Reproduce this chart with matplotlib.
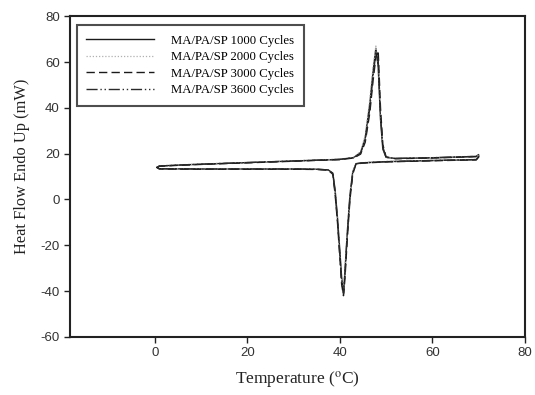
import matplotlib
matplotlib.use("Agg")
import matplotlib.pyplot as plt

plt.rcParams['mathtext.fontset'] = 'stix'
plt.rcParams['axes.unicode_minus'] = False

# Heating segment (temperature ascending) and cooling segment (descending)
heat_T = [0.5, 1, 5, 10, 20, 30, 40, 43, 44.5, 45.5, 46.5, 47.2, 47.8, 48.3, 48.8, 49.3, 50, 52, 60, 69.5, 70]
cool_T = [70, 69.5, 60, 50, 45, 43.5, 42.8, 42.2, 41.6, 41.1, 40.8, 40.4, 40.0, 39.5, 39.0, 38.5, 37.5, 35, 30, 20, 10, 1, 0.5]

heat_1000 = [14.0, 14.6, 15.0, 15.4, 16.1, 16.8, 17.5, 18.3, 20.5, 27, 42, 56, 66, 58, 35, 22, 18.4, 17.9, 18.2, 18.8, 19.6]
heat_2000 = [14.1, 14.7, 15.1, 15.5, 16.2, 16.9, 17.6, 18.4, 21, 28, 44, 58, 67, 60, 37, 23, 18.5, 18.0, 18.3, 18.9, 19.7]
heat_3000 = [14.0, 14.5, 14.9, 15.3, 16.0, 16.7, 17.4, 18.1, 19.8, 25, 38, 52, 62, 65, 40, 24, 18.6, 17.8, 18.1, 18.7, 19.5]
heat_3600 = [14.0, 14.6, 15.0, 15.4, 16.1, 16.8, 17.5, 18.2, 20.2, 26, 40, 54, 64, 61, 37, 23, 18.4, 17.9, 18.2, 18.8, 19.6]

cool_1000 = [18.6, 17.4, 17.0, 16.5, 16.0, 15.6, 12, 2, -15, -32, -41, -34, -22, -8, 4, 11.5, 12.9, 13.2, 13.3, 13.3, 13.3, 13.4, 14.0]
cool_2000 = [18.7, 17.5, 17.1, 16.6, 16.1, 15.7, 12.5, 3, -14, -30, -40, -35, -23, -9, 3, 11, 12.8, 13.2, 13.3, 13.3, 13.3, 13.4, 14.1]
cool_3000 = [18.5, 17.3, 16.9, 16.4, 15.9, 15.5, 11, 0, -18, -35, -42, -37, -25, -10, 2, 11, 12.8, 13.1, 13.2, 13.2, 13.2, 13.3, 13.9]
cool_3600 = [18.6, 17.4, 17.0, 16.5, 16.0, 15.6, 11.5, 1, -16, -33, -41, -36, -24, -9, 3, 11.2, 12.9, 13.2, 13.3, 13.3, 13.3, 13.4, 14.0]

labels = ["MA/PA/SP 1000 Cycles", "MA/PA/SP 2000 Cycles",
          "MA/PA/SP 3000 Cycles", "MA/PA/SP 3600 Cycles"]

x_ticks = [0, 20, 40, 60, 80]
y_ticks = [-60, -40, -20, 0, 20, 40, 60, 80]

fig = plt.figure(figsize=(5.35, 3.95), dpi=100)
ax = fig.add_axes([0.131, 0.147, 0.850, 0.812])

series = [
    (heat_1000, cool_1000, dict(color='#1a1a1a', linestyle='-', linewidth=1.0)),
    (heat_2000, cool_2000, dict(color='#b0b0b0', linestyle=(0, (1, 1.5)), linewidth=0.9)),
    (heat_3000, cool_3000, dict(color='#1a1a1a', linestyle=(0, (6, 3)), linewidth=1.0)),
    (heat_3600, cool_3600, dict(color='#2a2a2a', linestyle=(0, (8, 2, 1, 2, 1, 2)), linewidth=1.0)),
]

for (h, c, style), lab in zip(series, labels):
    ax.plot(heat_T + cool_T, h + c, label=lab, **style)

ax.set_xlim(-18.3, 80)
ax.set_ylim(-60, 80)
ax.set_xticks(x_ticks)
ax.set_yticks(y_ticks)

for sp in ax.spines.values():
    sp.set_linewidth(1.5)
    sp.set_color('#222222')

ax.tick_params(direction='out', length=4, width=1.0, labelsize=9.5, color='#222222',
               labelcolor='#333333', labelfontfamily='Liberation Sans')

ax.set_xlabel("Temperature ($^{\\rm o}$C)", fontfamily='Liberation Serif', fontsize=12.5, labelpad=7, color='#222222')
ax.set_ylabel("Heat Flow Endo Up (mW)", fontfamily='Liberation Serif', fontsize=11.8, color='#222222')
ax.yaxis.set_label_coords(-0.088, 0.533)

leg = ax.legend(loc='upper left', bbox_to_anchor=(0.015, 0.972), prop={'family': 'Liberation Serif', 'size': 9.2},
                frameon=True, fancybox=False, handlelength=5.3, handletextpad=1.35,
                labelspacing=0.35, borderpad=0.75, borderaxespad=0.0)
leg.get_frame().set_edgecolor('#222222')
leg.get_frame().set_linewidth(1.5)

fig.savefig("out.png", dpi=100)
